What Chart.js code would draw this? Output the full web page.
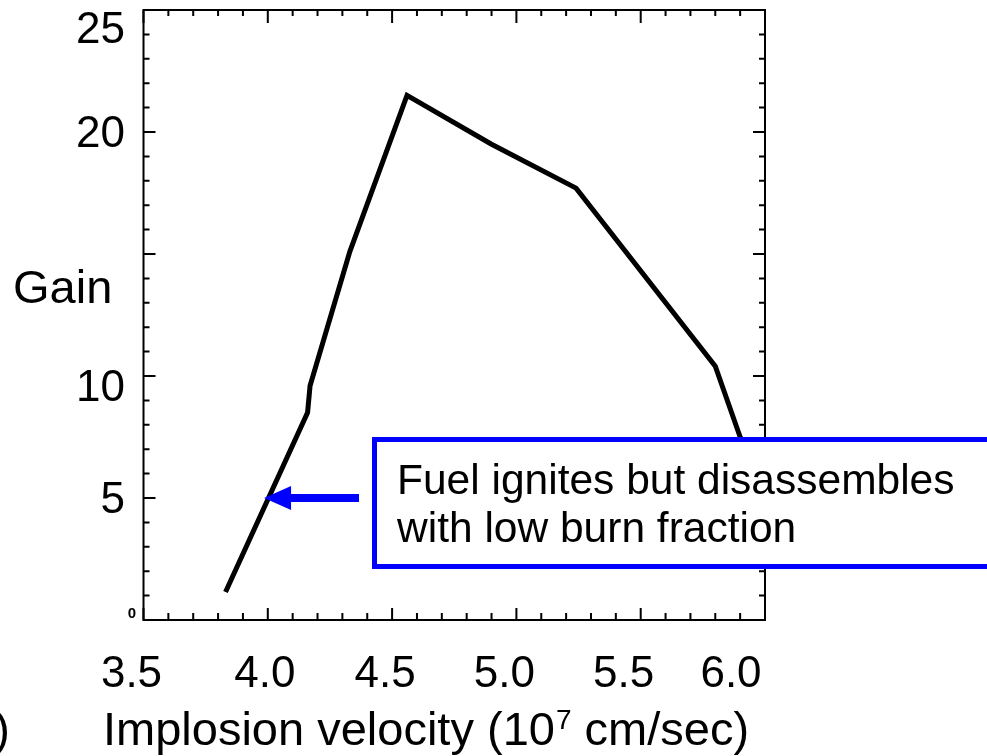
<!DOCTYPE html>
<html lang="en">
<head>
    <meta charset="UTF-8">
    <script src="https://cdn.jsdelivr.net/npm/chart.js"></script>
    <title>Gain vs implosion velocity</title>
    <style>
        body {
            margin: 0;
            background: #ffffff;
        }
        #wrap {
            position: relative;
            width: 987px;
            height: 756px;
        }
    </style>
</head>
<body>
<div id="wrap"><canvas id="myChart"></canvas></div>
<script>
    // values
    const velocity = [3.83, 4.16, 4.17, 4.33, 4.56, 4.90, 5.24, 5.80, 5.90, 6.00];
    const gain = [1.15, 8.5, 9.6, 15.1, 21.5, 19.5, 17.7, 10.4, 7.5, 4.8];
    const xTickValues = [3.5, 4.0, 4.5, 5.0, 5.5, 6.0];
    const xTickLabels = ['3.5', '4.0', '4.5', '5.0', '5.5', '6.0'];
    const yTickValues = [25, 20, 10, 5];
    const yTickLabels = ['25', '20', '10', '5'];
    const noteLines = ['Fuel ignites but disassembles', 'with low burn fraction'];
    const arrowGain = 5;

    const FONT = '"Liberation Sans", Arial, sans-serif';
    // hand nudges of the labels, as in the original figure
    const xLabelShift = [-12, -3, -7, -12, -17, -34];
    const yLabelShift = [21, 3, 13, 3];

    const axesPlugin = {
        id: 'axesPlugin',
        afterDatasetsDraw(chart) {
            const ctx = chart.ctx;
            const xs = chart.scales.x;
            const ys = chart.scales.y;
            const a = chart.chartArea;
            ctx.save();
            ctx.strokeStyle = '#000';
            ctx.lineWidth = 2;
            ctx.strokeRect(a.left, a.top, a.right - a.left, a.bottom - a.top);

            // x ticks every 0.1, major every 0.5 (bottom and top)
            ctx.beginPath();
            for (let i = 0; i <= 25; i++) {
                const px = xs.getPixelForValue(3.5 + i * 0.1);
                const major = i % 5 === 0;
                ctx.moveTo(px, a.bottom);
                ctx.lineTo(px, a.bottom - (major ? 12 : 7));
                ctx.moveTo(px, a.top);
                ctx.lineTo(px, a.top + (major ? 13 : 6));
            }
            // y ticks every 1, major every 5 (left and right)
            for (let j = 0; j <= 25; j++) {
                const py = ys.getPixelForValue(j);
                const major = j % 5 === 0;
                ctx.moveTo(a.left, py);
                ctx.lineTo(a.left + (major ? 12 : 6), py);
                ctx.moveTo(a.right, py);
                ctx.lineTo(a.right - (major ? 12 : 6), py);
            }
            ctx.stroke();

            ctx.fillStyle = '#000';
            // x labels
            ctx.font = '44px ' + FONT;
            ctx.textAlign = 'center';
            ctx.textBaseline = 'alphabetic';
            xTickValues.forEach((v, i) => {
                ctx.fillText(xTickLabels[i], xs.getPixelForValue(v) + xLabelShift[i], 687);
            });
            // y labels
            ctx.font = '44px ' + FONT;
            ctx.textAlign = 'right';
            ctx.textBaseline = 'middle';
            yTickValues.forEach((v, i) => {
                ctx.fillText(yTickLabels[i], 125, ys.getPixelForValue(v) + yLabelShift[i]);
            });
            ctx.font = 'bold 15px ' + FONT;
            ctx.fillText('0', 136, ys.getPixelForValue(0) - 6);

            // y title
            ctx.font = '47px ' + FONT;
            ctx.textAlign = 'left';
            ctx.fillText('Gain', 13, 290);

            // x title with superscript
            ctx.textBaseline = 'alphabetic';
            ctx.font = '47px ' + FONT;
            let tx = 103;
            const part1 = 'Implosion velocity (10';
            ctx.fillText(part1, tx, 745);
            tx += ctx.measureText(part1).width;
            ctx.font = '28px ' + FONT;
            ctx.fillText('7', tx + 1, 729);
            tx += ctx.measureText('7').width + 1;
            ctx.font = '47px ' + FONT;
            ctx.fillText(' cm/sec)', tx, 745);

            // panel letter clipped at the left edge
            ctx.textAlign = 'right';
            ctx.fillText('(a)', 10, 745);

            // annotation box
            const bx = 374.5, by = 439.5, bh = 127;
            ctx.fillStyle = '#fff';
            ctx.fillRect(bx, by, 987 - bx + 10, bh);
            ctx.strokeStyle = '#0000ff';
            ctx.lineWidth = 5;
            ctx.strokeRect(bx, by, 987 - bx + 10, bh);
            ctx.fillStyle = '#000';
            ctx.font = '42.5px ' + FONT;
            ctx.textAlign = 'left';
            ctx.fillText(noteLines[0], 397, 494);
            ctx.fillText(noteLines[1], 397, 542);

            // arrow pointing at the curve
            const ay = ys.getPixelForValue(arrowGain);
            const tip = xs.getPixelForValue(3.985);
            ctx.fillStyle = '#0000ff';
            ctx.fillRect(tip + 24, ay - 4, 359 - tip - 24, 8);
            ctx.beginPath();
            ctx.moveTo(tip, ay);
            ctx.lineTo(tip + 27, ay - 12);
            ctx.lineTo(tip + 27, ay + 12);
            ctx.closePath();
            ctx.fill();
            ctx.restore();
        }
    };

    const points = velocity.map((v, i) => ({x: v, y: gain[i]}));

    new Chart(document.getElementById('myChart'), {
        type: 'line',
        data: {
            datasets: [{
                data: points,
                borderColor: '#000',
                borderWidth: 5,
                pointRadius: 0,
                tension: 0,
                fill: false
            }]
        },
        options: {
            responsive: true,
            maintainAspectRatio: false,
            animation: false,
            events: [],
            layout: {padding: {top: 10, right: 222, left: 0, bottom: 0}},
            plugins: {legend: {display: false}, tooltip: {enabled: false}},
            scales: {
                x: {
                    type: 'linear',
                    min: 3.5,
                    max: 6.0,
                    grid: {display: false},
                    border: {display: false},
                    ticks: {display: false},
                    afterFit(scale) { scale.height = 136; }
                },
                y: {
                    min: 0,
                    max: 25,
                    grid: {display: false},
                    border: {display: false},
                    ticks: {display: false},
                    afterFit(scale) { scale.width = 143.5; }
                }
            }
        },
        plugins: [axesPlugin]
    });
</script>
</body>
</html>
